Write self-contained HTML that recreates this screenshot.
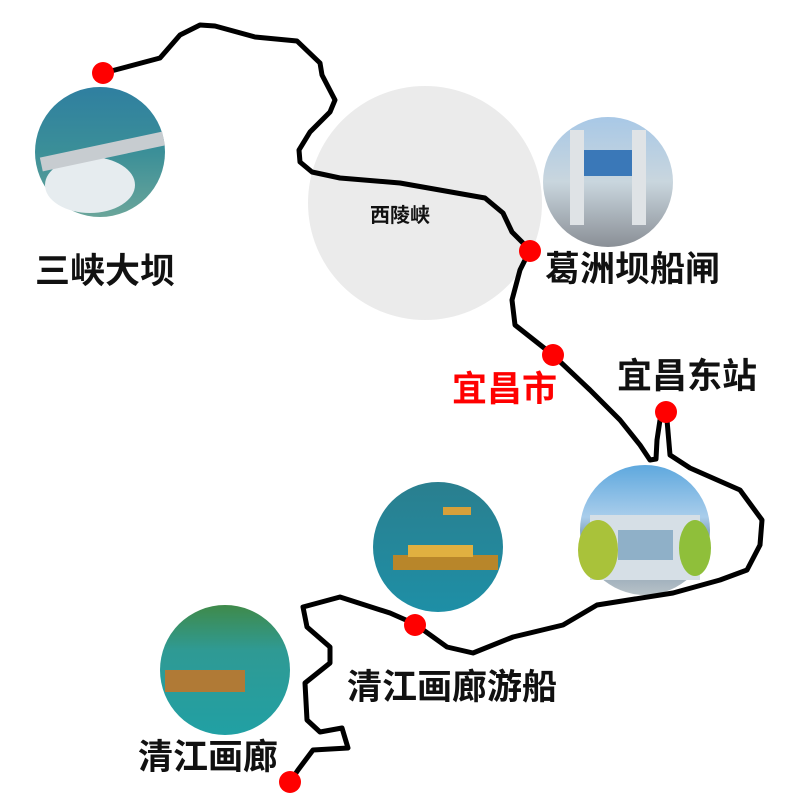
<!DOCTYPE html>
<html><head><meta charset="utf-8"><style>
body{margin:0;background:#fff}
svg text{font-family:"Liberation Sans","Noto Sans CJK SC",sans-serif;font-weight:bold}
</style></head><body>
<svg width="800" height="800" viewBox="0 0 800 800" xmlns="http://www.w3.org/2000/svg">
<defs>
<linearGradient id="g1" x1="0" y1="0" x2="0" y2="1"><stop offset="0" stop-color="#2f7fa0"/><stop offset="0.5" stop-color="#3b8f98"/><stop offset="1" stop-color="#6aa59a"/></linearGradient>
<linearGradient id="g2" x1="0" y1="0" x2="0" y2="1"><stop offset="0" stop-color="#a8c8e6"/><stop offset="0.5" stop-color="#c9d6de"/><stop offset="1" stop-color="#8a8f96"/></linearGradient>
<linearGradient id="g3" x1="0" y1="0" x2="0" y2="1"><stop offset="0" stop-color="#5ea8de"/><stop offset="0.4" stop-color="#a9cdeb"/><stop offset="0.6" stop-color="#6f8da6"/><stop offset="1" stop-color="#b8c2c8"/></linearGradient>
<linearGradient id="g4" x1="0" y1="0" x2="0" y2="1"><stop offset="0" stop-color="#2a7f8f"/><stop offset="1" stop-color="#1e8fa6"/></linearGradient>
<linearGradient id="g5" x1="0" y1="0" x2="0" y2="1"><stop offset="0" stop-color="#3f8a4a"/><stop offset="0.35" stop-color="#2f9a94"/><stop offset="1" stop-color="#21a0a4"/></linearGradient>
</defs>
<circle cx="425" cy="203" r="117" fill="#ebebeb"/>
<circle cx="100" cy="152" r="65" fill="url(#g1)"/>
<ellipse cx="90" cy="185" rx="45" ry="28" fill="#e6ecef"/>
<rect x="40" y="145" width="125" height="14" fill="#c7ccd0" transform="rotate(-12 100 152)"/>
<circle cx="608" cy="182" r="65" fill="url(#g2)"/>
<rect x="570" y="130" width="14" height="95" fill="#dfe3e6"/><rect x="632" y="130" width="14" height="95" fill="#dfe3e6"/>
<rect x="584" y="150" width="48" height="26" fill="#3a78b8"/>
<circle cx="645" cy="530" r="65" fill="url(#g3)"/>
<rect x="590" y="515" width="110" height="65" fill="#d6dfe6"/>
<rect x="618" y="530" width="55" height="30" fill="#8fb0c8"/>
<ellipse cx="598" cy="550" rx="20" ry="30" fill="#a9c23a"/><ellipse cx="695" cy="548" rx="16" ry="28" fill="#8fbf3a"/>
<circle cx="438" cy="547" r="65" fill="url(#g4)"/>
<rect x="393" y="555" width="105" height="15" fill="#b8862a"/><rect x="408" y="545" width="65" height="12" fill="#e0b040"/>
<rect x="443" y="507" width="28" height="8" fill="#d6a03a"/>
<circle cx="225" cy="670" r="65" fill="url(#g5)"/>
<rect x="165" y="670" width="80" height="22" fill="#b07a36"/>
<path d="M103,73 L115,70 L160,58 L180,35 L200,25 L215,26 L255,37 L297,41 L320,63 L322,75 L335,100 L330,112 L310,132 L299,150 L300,162 L312,172 L340,178 L400,183 L485,198 L503,213 L512,232 L530,250 L520,270 L512,300 L515,325 L553,355 L590,390 L620,420 L640,445 L650,460 L656,459 L657,440 L660,420 L666,412 L667,420 L670,455 L690,468 L740,490 L762,520 L760,545 L747,570 L720,580 L673,593 L597,605 L563,625 L513,637 L473,653 L447,647 L415,624 L390,613 L340,597 L303,607 L307,627 L330,647 L330,663 L305,683 L307,720 L320,732 L342,728 L348,748 L313,750 L298,770 L290,782" fill="none" stroke="#000" stroke-width="5" stroke-linejoin="round" stroke-linecap="round"/>
<g fill="#f00">
<circle cx="103" cy="73" r="11"/><circle cx="530" cy="251" r="11"/><circle cx="553" cy="355" r="11"/><circle cx="666" cy="412" r="11"/><circle cx="415" cy="625" r="11"/><circle cx="290" cy="782" r="11"/>
</g>
<text x="370" y="222" font-size="20" fill="#111">西陵峡</text>
<text x="35" y="283" font-size="35" fill="#111">三峡大坝</text>
<text x="545" y="281" font-size="35" fill="#111">葛洲坝船闸</text>
<text x="452" y="401" font-size="35" fill="#f00">宜昌市</text>
<text x="617" y="388" font-size="35" fill="#111">宜昌东站</text>
<text x="347" y="699" font-size="35" fill="#111">清江画廊游船</text>
<text x="138" y="769" font-size="35" fill="#111">清江画廊</text>
</svg>
</body></html>
